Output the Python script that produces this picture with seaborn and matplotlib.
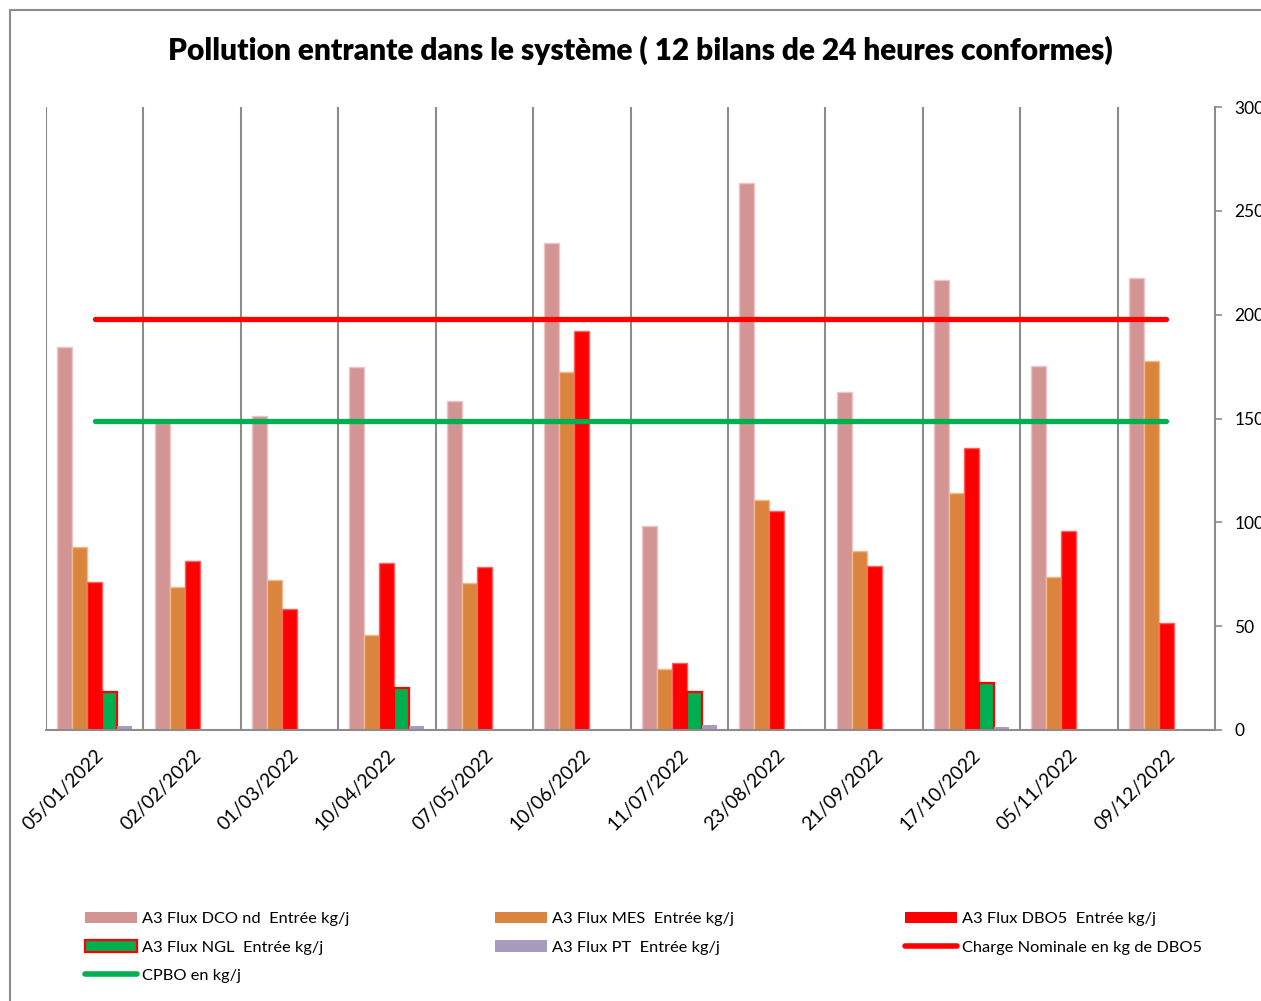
import numpy as np
import pandas as pd
import matplotlib
matplotlib.use("Agg")
import matplotlib.pyplot as plt
from matplotlib.patches import Patch
from matplotlib.lines import Line2D
import seaborn as sns

# Sampling dates of the 24-hour balances
dates = ["05/01/2022", "02/02/2022", "01/03/2022", "10/04/2022", "07/05/2022",
         "10/06/2022", "11/07/2022", "23/08/2022", "21/09/2022", "17/10/2022",
         "05/11/2022", "09/12/2022"]

# Incoming loads (kg/day)
dco = [184.4, 148.0, 151.0, 174.8, 158.4, 234.5, 98.2, 263.4, 162.7, 216.7, 175.3, 217.6]
mes = [88.0, 68.9, 72.2, 45.7, 70.8, 172.4, 29.4, 110.7, 86.2, 114.1, 73.7, 177.7]
dbo5 = [71.3, 81.4, 58.3, 80.4, 78.5, 192.1, 32.3, 105.4, 79.0, 135.8, 95.8, 51.5]
ngl = [18.3, np.nan, np.nan, 20.2, np.nan, np.nan, 18.3, np.nan, np.nan, 22.6, np.nan, np.nan]
pt = [2.0, np.nan, np.nan, 2.0, np.nan, np.nan, 2.4, np.nan, np.nan, 1.5, np.nan, np.nan]

# Reference levels (kg/day)
charge_nominale = 198
cpbo = 149

series_names = ["A3 Flux DCO nd  Entrée kg/j", "A3 Flux MES  Entrée kg/j",
                "A3 Flux DBO5  Entrée kg/j", "A3 Flux NGL  Entrée kg/j",
                "A3 Flux PT  Entrée kg/j"]
line_names = ["Charge Nominale en kg de DBO5", "CPBO en kg/j"]

colors = ["#D39594", "#DB843D", "#FF0000", "#00B050", "#A99BBD"]
edges = ["#EBC4C3", "#F0B98C", "#FF6060", "#FF0000", "#A99BBD"]

rows = []
for name, vals in zip(series_names, [dco, mes, dbo5, ngl, pt]):
    for d, v in zip(dates, vals):
        rows.append({"date": d, "series": name, "value": v})
df = pd.DataFrame(rows)

sns.set_theme(style="white")
plt.rcParams["font.family"] = ["Lato", "DejaVu Sans"]
plt.rcParams["text.color"] = "black"
plt.rcParams["xtick.labelcolor"] = "black"
plt.rcParams["ytick.labelcolor"] = "black"

W, H = 1261, 1001
fig = plt.figure(figsize=(W / 100, H / 100), dpi=100)
ax = fig.add_axes([46 / W, 1 - 730 / H, (1215 - 46) / W, (730 - 107) / H])

sns.barplot(data=df, x="date", y="value", hue="series", order=dates,
            hue_order=series_names, palette=colors, width=0.77, gap=0,
            saturation=1, errorbar=None, legend=False, ax=ax)

for cont, ec, lw in zip(ax.containers, edges, [1.0, 1.0, 1.0, 1.6, 0]):
    for bar in cont:
        bar.set_edgecolor(ec)
        bar.set_linewidth(lw)

grey = "#8C8C8C"
x = np.arange(len(dates))
ax.plot([x[0], x[-1]], [charge_nominale] * 2, color="#FF0000", lw=3.8,
        solid_capstyle="round", zorder=5)
ax.plot([x[0], x[-1]], [cpbo] * 2, color="#00B050", lw=3.8,
        solid_capstyle="round", zorder=5)

for k in range(len(dates)):
    ax.axvline(k - 0.5, color=grey, lw=1.5, zorder=0)

ax.set_xlim(-0.5, len(dates) - 0.5)
ax.set_ylim(0, 300)
ax.set_yticks(range(0, 301, 50))
ax.yaxis.tick_right()
ax.tick_params(axis="y", which="major", right=True, left=False, direction="out",
               length=5, width=1.2, color=grey, labelsize=12.5, pad=9,
               labelcolor="black")
ax.tick_params(axis="x", bottom=False, labelsize=13.8, pad=6, labelcolor="black")
plt.setp(ax.get_xticklabels(), rotation=45, ha="right", va="top",
         rotation_mode="anchor")
ax.set_xlabel("")
ax.set_ylabel("")
for s in ["top", "left"]:
    ax.spines[s].set_visible(False)
for s in ["right", "bottom"]:
    ax.spines[s].set_color(grey)
    ax.spines[s].set_linewidth(1.5)

fig.text(640 / W, 1 - 50 / H,
         "Pollution entrante dans le système ( 12 bilans de 24 heures conformes)",
         ha="center", va="center", fontsize=21.5, fontweight="heavy",
         color="black")

# Outer frame of the chart area
fx = 10 / W
fy = 1 - 10 / H
fig.add_artist(Line2D([fx, fx], [0, fy], transform=fig.transFigure, color=grey, lw=1.5))
fig.add_artist(Line2D([fx, 1], [fy, fy], transform=fig.transFigure, color=grey, lw=1.5))

# Legend, laid out in three columns
bar_handles = [Patch(facecolor=c, edgecolor=(e if i == 3 else c), linewidth=(1.6 if i == 3 else 0))
               for i, (c, e) in enumerate(zip(colors, edges))]
line_handles = [Line2D([], [], color="#FF0000", lw=4, solid_capstyle="round"),
                Line2D([], [], color="#00B050", lw=4, solid_capstyle="round")]

columns = [
    (85, [bar_handles[0], bar_handles[3], line_handles[1]],
     [series_names[0], series_names[3], line_names[1]]),
    (495, [bar_handles[1], bar_handles[4]], [series_names[1], series_names[4]]),
    (905, [bar_handles[2], line_handles[0]], [series_names[2], line_names[0]]),
]
fs = 11.8
fs_px = fs * 100 / 72
for xpix, hs, ls in columns:
    fig.legend(hs, ls, loc="upper left",
               bbox_to_anchor=(xpix / W, 1 - 912 / H), frameon=False,
               fontsize=fs, handlelength=52 / fs_px, handleheight=0.7,
               handletextpad=5 / fs_px, labelspacing=0.84, borderpad=0,
               borderaxespad=0, labelcolor="black")

fig.savefig("out.png", dpi=100, facecolor="white")
